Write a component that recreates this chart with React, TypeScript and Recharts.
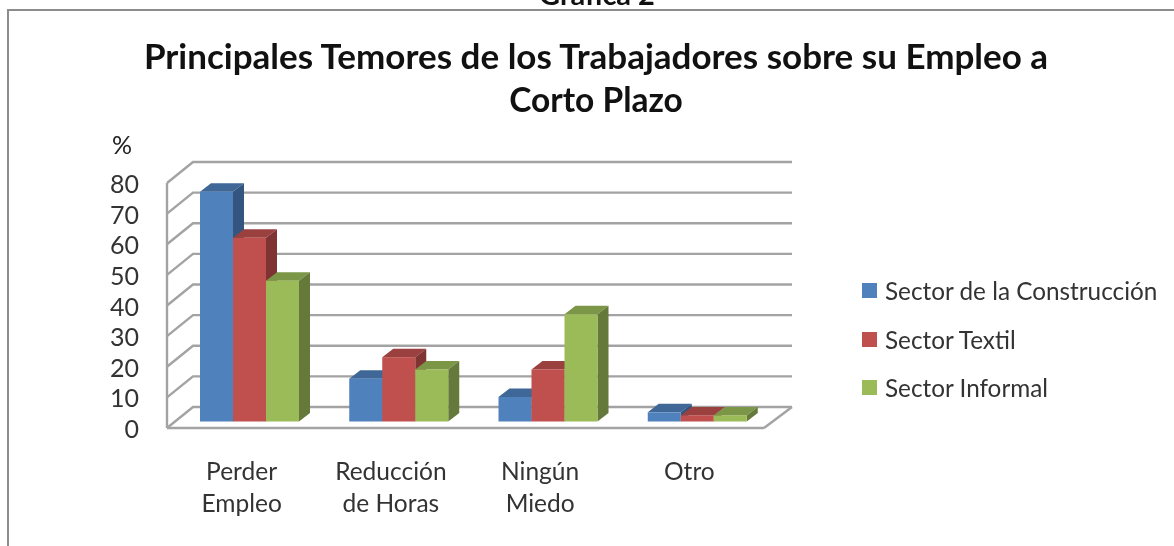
import React from "react";
import { BarChart, Bar, XAxis, YAxis, CartesianGrid, Legend } from "recharts";

const categories = ["Perder Empleo", "Reducción de Horas", "Ningún Miedo", "Otro"];
const construccion = [75, 14, 8, 3];
const textil = [60, 21, 17, 2];
const informal = [46, 17, 35, 2];
const yTicks = [0, 10, 20, 30, 40, 50, 60, 70, 80];
const titleLines = ["Principales Temores de los Trabajadores sobre su Empleo a", "Corto Plazo"];

const data = categories.map((name, i) => ({
  name,
  construccion: construccion[i],
  textil: textil[i],
  informal: informal[i],
}));

const FONT = "Lato, 'Open Sans', sans-serif";
const GRID = "#a3a3a3";
const SHIFT_X = 8;
const SHIFT_Y = -6.5;
const DEPTH_X = 11;
const DEPTH_Y = -8.5;

const make3D = (front: string, top: string, side: string) => (p: any) => {
  const x = p.x + SHIFT_X;
  const y = p.y + SHIFT_Y;
  const w = p.width;
  const h = p.height;
  return (
    <g>
      <polygon
        points={`${x},${y} ${x + DEPTH_X},${y + DEPTH_Y} ${x + w + DEPTH_X},${y + DEPTH_Y} ${x + w},${y}`}
        fill={top}
      />
      <polygon
        points={`${x + w},${y} ${x + w + DEPTH_X},${y + DEPTH_Y} ${x + w + DEPTH_X},${y + h + DEPTH_Y} ${x + w},${y + h}`}
        fill={side}
      />
      <rect x={x} y={y} width={w} height={h} fill={front} />
    </g>
  );
};

const GridLine = (p: any) => {
  const y = p.y1;
  const isFloor = Math.abs(y - 428) < 1;
  const pts = `${p.x1},${y} ${p.x1 + 26},${y - 21} ${p.x2 + 28},${y - 21}`;
  return (
    <g>
      <polyline points={pts} fill="none" stroke={GRID} strokeWidth={2.4} />
      {isFloor && (
        <line x1={p.x2 + 28} y1={y - 21} x2={p.x2} y2={y} stroke={GRID} strokeWidth={2.4} />
      )}
    </g>
  );
};

const CategoryTick = (p: any) => {
  const v: string = p.payload.value;
  const cut = v.indexOf(" ");
  const lines = cut < 0 ? [v] : [v.slice(0, cut), v.slice(cut + 1)];
  return (
    <text x={p.x} textAnchor="middle" fontFamily={FONT} fontSize={24.5} fill="#333">
      {lines.map((l, i) => (
        <tspan key={l} x={p.x} y={480 + i * 32}>
          {l}
        </tspan>
      ))}
    </text>
  );
};

const YTick = (p: any) => (
  <text x={139} y={p.y + 10} textAnchor="end" fontFamily={FONT} fontSize={25} fill="#333">
    {p.payload.value}
  </text>
);

const LegendBox = (p: any) => (
  <div>
    {(p.payload || []).map((e: any, i: number) => (
      <div
        key={e.value}
        style={{
          position: "absolute",
          left: 0,
          top: [0, 49, 97][i],
          height: 30,
          whiteSpace: "nowrap",
          display: "flex",
          alignItems: "center",
          fontFamily: FONT,
          fontSize: 24.3,
          color: "#333",
        }}
      >
        <span style={{ width: 15, height: 15, background: e.color, marginRight: 8, display: "inline-block" }} />
        {e.value}
      </div>
    ))}
  </div>
);

export default function App() {
  return (
    <div
      style={{
        position: "absolute",
        left: 0,
        top: 0,
        width: 1174,
        height: 546,
        overflow: "hidden",
        background: "#fff",
        filter: "blur(0.45px)",
      }}
    >
      <div
        style={{
          position: "absolute",
          left: 7,
          top: 9,
          width: 1180,
          height: 560,
          borderLeft: "2px solid #8c8c8c",
          borderTop: "2px solid #8c8c8c",
        }}
      />
      <div
        style={{
          position: "absolute",
          left: 0,
          width: 1194,
          top: -21,
          textAlign: "center",
          fontFamily: FONT,
          fontWeight: 700,
          fontSize: 29,
          lineHeight: "30px",
          color: "#111",
        }}
      >
        Gráfica 2
      </div>
      {titleLines.map((t, i) => (
        <div
          key={t}
          style={{
            position: "absolute",
            left: 0,
            width: 1192,
            top: 33 + i * 44,
            textAlign: "center",
            fontFamily: FONT,
            fontWeight: 700,
            fontSize: i === 0 ? 35 : 33.5,
            lineHeight: "44px",
            color: "#111",
          }}
        >
          {t}
        </div>
      ))}
      <div
        style={{
          position: "absolute",
          left: 112,
          top: 130,
          fontFamily: FONT,
          fontSize: 25,
          lineHeight: "28px",
          color: "#222",
        }}
      >
        %
      </div>
      <div style={{ position: "absolute", left: 0, top: 0 }}>
        <BarChart
          width={1174}
          height={546}
          data={data}
          margin={{ left: 107, right: 410, top: 183, bottom: 88 }}
          barCategoryGap={25}
          barGap={0}
          barSize={33}
        >
          <CartesianGrid vertical={false} horizontal={(p: any) => <GridLine key={p.key} {...p} />} />
          <XAxis
            dataKey="name"
            height={30}
            interval={0}
            tickLine={false}
            axisLine={{ stroke: GRID, strokeWidth: 2.4 }}
            tick={(p: any) => <CategoryTick {...p} />}
          />
          <YAxis
            width={60}
            domain={[0, 80]}
            ticks={yTicks}
            interval={0}
            tickLine={false}
            axisLine={{ stroke: GRID, strokeWidth: 2.4 }}
            tick={(p: any) => <YTick {...p} />}
          />
          <Legend
            layout="vertical"
            align="center"
            verticalAlign="middle"
            itemSorter={null as any}
            wrapperStyle={{ left: 862, top: 275, width: 300, height: 130 }}
            content={(p: any) => <LegendBox {...p} />}
          />
          <Bar
            dataKey="construccion"
            name="Sector de la Construcción"
            fill="#4f81bd"
            isAnimationActive={false}
            shape={make3D("#4f81bd", "#3f6797", "#33557f")}
          />
          <Bar
            dataKey="textil"
            name="Sector Textil"
            fill="#c0504d"
            isAnimationActive={false}
            shape={make3D("#c0504d", "#9a403e", "#7f3332")}
          />
          <Bar
            dataKey="informal"
            name="Sector Informal"
            fill="#9bbb59"
            isAnimationActive={false}
            shape={make3D("#9bbb59", "#7c9647", "#65793a")}
          />
        </BarChart>
      </div>
    </div>
  );
}
